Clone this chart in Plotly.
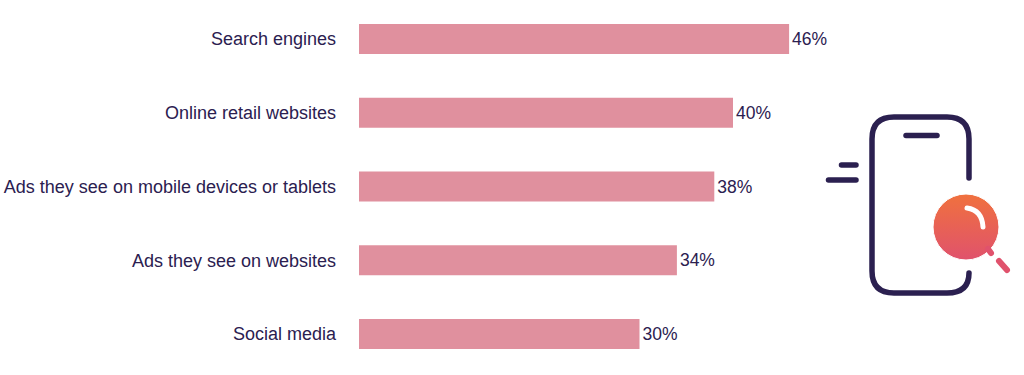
import plotly.graph_objects as go

categories = ["Search engines", "Online retail websites", "Ads they see on mobile devices or tablets",
              "Ads they see on websites", "Social media"]
values = [46, 40, 38, 34, 30]

W, H = 1024, 375
INK = "#2B2050"
PINK = "#E0909E"

fig = go.Figure()
fig.add_trace(go.Bar(
    y=categories, x=values, orientation="h", width=0.407,
    marker=dict(color=PINK, line=dict(width=0)),
    text=[f"{v}%" for v in values], textposition="outside", cliponaxis=False,
    textfont=dict(family="Liberation Sans", size=17.5, color=INK),
    hoverinfo="skip",
))

# Decorative icon, drawn on a hidden pixel-sized overlay
icon_x, icon_y, icon_r = [966], [227], 33
fig.add_trace(go.Scatter(
    x=icon_x, y=icon_y, xaxis="x2", yaxis="y2", mode="markers", hoverinfo="skip",
    marker=dict(size=icon_r * 2, symbol="circle", color="#F0713E",
                gradient=dict(type="vertical", color="#E0526C"),
                line=dict(color="white", width=1)),
))


def stroke(path, color=INK, width=5.5):
    return dict(type="path", xref="x2", yref="y2", path=path, layer="above",
                line=dict(color=color, width=width))


shapes = [
    stroke("M969,178 L969,139 Q969,117 947,117 L894,117 Q872,117 872,139 L872,271 Q872,293 894,293 "
           "L947,293 Q969,293 969,273"),
    stroke("M906,135.500 L937,135.500"),
    stroke("M841.500,165 L856,165"),
    stroke("M828.500,180 L856,180"),
    stroke("M967,208 Q982,210 983,227", color="white", width=5),
    stroke("M988,249 L991,253", color="#E0526C", width=6),
    stroke("M999,261 L1007,270", color="#E0526C", width=6),
]

fig.update_layout(
    width=W, height=H, autosize=False, showlegend=False,
    margin=dict(l=0, r=0, t=0, b=0),
    paper_bgcolor="white", plot_bgcolor="rgba(0,0,0,0)",
    bargap=0.593, shapes=shapes,
    xaxis=dict(domain=[359 / W, 1], range=[0, (W - 359) / 9.35], visible=False, fixedrange=True),
    yaxis=dict(domain=[1 - 370.9 / H, 1 - 2.1 / H], autorange=False, range=[4.5, -0.5],
               type="category", categoryorder="array", categoryarray=categories,
               showline=False, showgrid=False, ticks="", ticklabelstandoff=22,
               tickfont=dict(family="Liberation Sans", size=18, color=INK), fixedrange=True),
    xaxis2=dict(domain=[0, 1], range=[0, W], visible=False, anchor="y2", fixedrange=True),
    yaxis2=dict(domain=[0, 1], range=[H, 0], visible=False, anchor="x2", fixedrange=True),
)

page_fix = ("var s=document.createElement('style');"
            "s.textContent='html,body{margin:0;padding:0}"
            ".shapelayer path{stroke-linecap:round;stroke-linejoin:round}';"
            "document.head.appendChild(s);")
fig.write_html("out.html", config=dict(displayModeBar=False), post_script=page_fix)
